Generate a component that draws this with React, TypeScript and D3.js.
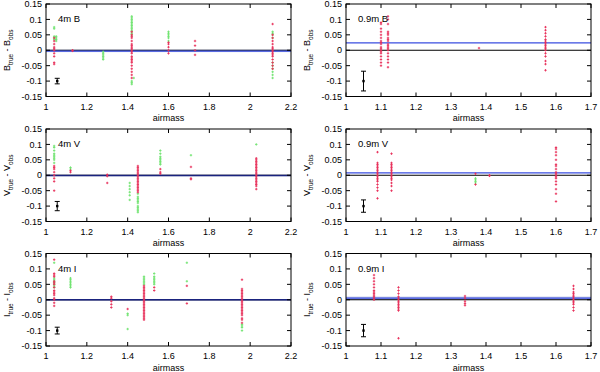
import React from "react";
import * as d3 from "d3";

type Pt = [number, number];

// ---------- data (airmass, residual) ----------
const b4Red: Pt[] = [
  [1.04, 0.04], [1.04, 0.03], [1.04, 0.02], [1.04, 0.01], [1.04, 0.005], [1.04, 0], [1.04, -0.01], [1.04, -0.02], [1.04, -0.04], [1.04, -0.045],
  [1.13, 0], [1.13, -0.002],
  [1.42, 0.06], [1.42, 0.05], [1.42, 0.045], [1.42, 0.04], [1.42, 0.03], [1.42, 0.02], [1.42, 0.015], [1.42, 0.01], [1.42, 0.005], [1.42, 0], [1.42, -0.005], [1.42, -0.01], [1.42, -0.02], [1.42, -0.025], [1.42, -0.03], [1.42, -0.035], [1.42, -0.04], [1.42, -0.05], [1.42, -0.06], [1.42, -0.07], [1.42, -0.08], [1.42, -0.09],
  [1.6, 0.025], [1.6, 0.02], [1.6, 0.01], [1.6, 0], [1.6, -0.01],
  [1.73, 0.03], [1.73, 0.015], [1.73, 0], [1.73, -0.015],
  [2.11, 0.085], [2.11, 0.05], [2.11, 0.04], [2.11, 0.03], [2.11, 0.02], [2.11, 0.01], [2.11, 0.005], [2.11, 0], [2.11, -0.005], [2.11, -0.01], [2.11, -0.015], [2.11, -0.02], [2.11, -0.03], [2.11, -0.04], [2.11, -0.05], [2.11, -0.06],
];
const b4Green: Pt[] = [
  [1.04, 0.075], [1.04, 0.07], [1.04, 0.045], [1.04, 0.04], [1.04, 0.035],
  [1.05, 0.045], [1.05, 0.04], [1.05, 0.035], [1.05, 0.03],
  [1.28, -0.005], [1.28, -0.01], [1.28, -0.015], [1.28, -0.02], [1.28, -0.025], [1.28, -0.03],
  [1.42, 0.11], [1.42, 0.105], [1.42, 0.1], [1.42, 0.095], [1.42, 0.09], [1.42, 0.085], [1.42, 0.08], [1.42, 0.075], [1.42, 0.07], [1.42, 0.065], [1.42, 0.06], [1.42, 0.055], [1.42, 0.05], [1.42, -0.1], [1.42, -0.105], [1.42, -0.11], [1.43, -0.09],
  [1.6, 0.06], [1.6, 0.055], [1.6, 0.05], [1.6, 0.045], [1.6, 0.04], [1.6, 0.03],
  [2.11, 0.06], [2.11, 0.055], [2.11, 0.05], [2.11, 0.04], [2.11, -0.04], [2.11, -0.05], [2.11, -0.06], [2.11, -0.07], [2.11, -0.08], [2.11, -0.09],
];
const b09Red: Pt[] = [
  [1.1, 0.09], [1.1, 0.085], [1.1, 0.07], [1.1, 0.06], [1.1, 0.05], [1.1, 0.04], [1.1, 0.03], [1.1, 0.025], [1.1, 0.02], [1.1, 0.01], [1.1, 0.005], [1.1, 0], [1.1, -0.005], [1.1, -0.01], [1.1, -0.02], [1.1, -0.03], [1.1, -0.04], [1.1, -0.05],
  [1.12, 0.11], [1.12, 0.1], [1.12, 0.085], [1.12, 0.06], [1.12, 0.055], [1.12, 0.05], [1.12, 0.04], [1.12, 0.035], [1.12, 0.03], [1.12, 0.02], [1.12, 0.015], [1.12, 0.01], [1.12, 0.005], [1.12, 0], [1.12, -0.01], [1.12, -0.02], [1.12, -0.03], [1.12, -0.04], [1.12, -0.055],
  [1.38, 0.007],
  [1.57, 0.075], [1.57, 0.065], [1.57, 0.055], [1.57, 0.045], [1.57, 0.035], [1.57, 0.03], [1.57, 0.025], [1.57, 0.02], [1.57, 0.015], [1.57, 0.01], [1.57, 0.005], [1.57, 0], [1.57, -0.01], [1.57, -0.02], [1.57, -0.035], [1.57, -0.045], [1.57, -0.065],
];
const b09Green: Pt[] = [];

const v4Red: Pt[] = [
  [1.04, 0.03], [1.04, 0.025], [1.04, 0.02], [1.04, 0.01], [1.04, 0], [1.04, -0.01], [1.04, -0.02], [1.04, -0.05],
  [1.12, 0.015], [1.12, 0.01],
  [1.3, 0.002], [1.3, -0.003], [1.3, -0.025],
  [1.45, 0.03], [1.45, 0.025], [1.45, 0.02], [1.45, 0.015], [1.45, 0.01], [1.45, 0.005], [1.45, 0], [1.45, -0.005], [1.45, -0.01], [1.45, -0.015], [1.45, -0.02], [1.45, -0.025], [1.45, -0.03], [1.45, -0.035], [1.45, -0.04], [1.45, -0.045], [1.45, -0.05], [1.45, -0.055],
  [1.56, 0.02], [1.56, 0.01], [1.56, 0.005],
  [1.71, 0.027], [1.71, -0.01], [1.71, -0.013],
  [2.03, 0.055], [2.03, 0.05], [2.03, 0.045], [2.03, 0.04], [2.03, 0.035], [2.03, 0.03], [2.03, 0.025], [2.03, 0.02], [2.03, 0.015], [2.03, 0.01], [2.03, 0.005], [2.03, 0], [2.03, -0.005], [2.03, -0.01], [2.03, -0.015], [2.03, -0.02], [2.03, -0.025], [2.03, -0.03], [2.03, -0.035], [2.03, -0.045],
];
const v4Green: Pt[] = [
  [1.04, 0.095], [1.04, 0.09], [1.04, 0.08], [1.04, 0.07], [1.04, 0.065], [1.04, 0.06], [1.04, 0.055], [1.04, 0.05], [1.04, 0.04],
  [1.12, 0.025], [1.12, 0.02],
  [1.41, -0.025], [1.41, -0.035], [1.41, -0.045], [1.41, -0.055], [1.41, -0.065], [1.41, -0.08],
  [1.45, -0.06], [1.45, -0.07], [1.45, -0.075], [1.45, -0.08], [1.45, -0.085], [1.45, -0.09], [1.45, -0.1], [1.45, -0.105], [1.45, -0.11], [1.45, -0.115], [1.45, -0.12],
  [1.56, 0.08], [1.56, 0.07], [1.56, 0.06], [1.56, 0.055], [1.56, 0.05], [1.56, 0.045], [1.56, 0.04], [1.56, 0.035],
  [1.71, 0.065],
  [2.03, 0.1],
];
const v09Red: Pt[] = [
  [1.09, 0.075], [1.09, 0.04], [1.09, 0.035], [1.09, 0.03], [1.09, 0.025], [1.09, 0.02], [1.09, 0.015], [1.09, 0.01], [1.09, 0.005], [1.09, 0], [1.09, -0.005], [1.09, -0.01], [1.09, -0.015], [1.09, -0.02], [1.09, -0.03], [1.09, -0.04], [1.09, -0.05], [1.09, -0.075],
  [1.13, 0.07], [1.13, 0.04], [1.13, 0.035], [1.13, 0.03], [1.13, 0.025], [1.13, 0.02], [1.13, 0.015], [1.13, 0.01], [1.13, 0.005], [1.13, 0], [1.13, -0.005], [1.13, -0.01], [1.13, -0.015], [1.13, -0.025], [1.13, -0.035], [1.13, -0.05],
  [1.37, 0.005], [1.37, -0.03],
  [1.41, 0], [1.41, -0.002],
  [1.6, 0.09], [1.6, 0.085], [1.6, 0.075], [1.6, 0.065], [1.6, 0.05], [1.6, 0.035], [1.6, 0.03], [1.6, 0.02], [1.6, 0.01], [1.6, 0.005], [1.6, 0], [1.6, -0.005], [1.6, -0.01], [1.6, -0.02], [1.6, -0.03], [1.6, -0.045], [1.6, -0.06], [1.6, -0.085],
];
const v09Green: Pt[] = [
  [1.37, -0.01], [1.37, -0.015], [1.37, -0.02], [1.37, -0.025],
];

const i4Red: Pt[] = [
  [1.04, 0.13], [1.04, 0.085], [1.04, 0.08], [1.04, 0.075], [1.04, 0.06], [1.04, 0.055], [1.04, 0.05], [1.04, 0.04], [1.04, 0.03], [1.04, 0.025], [1.04, 0.02], [1.04, 0.015], [1.04, 0.005], [1.04, 0], [1.04, -0.01], [1.04, -0.02],
  [1.32, 0.01], [1.32, 0.005], [1.32, -0.005], [1.32, -0.015], [1.32, -0.025],
  [1.4, -0.03],
  [1.48, 0.045], [1.48, 0.04], [1.48, 0.035], [1.48, 0.03], [1.48, 0.025], [1.48, 0.02], [1.48, 0.015], [1.48, 0.01], [1.48, 0.005], [1.48, 0], [1.48, -0.005], [1.48, -0.01], [1.48, -0.015], [1.48, -0.02], [1.48, -0.025], [1.48, -0.03], [1.48, -0.035], [1.48, -0.04], [1.48, -0.045], [1.48, -0.05], [1.48, -0.055], [1.48, -0.06], [1.48, -0.065],
  [1.53, 0.04], [1.53, 0.03],
  [1.69, 0.045], [1.69, -0.012],
  [1.96, 0.065], [1.96, 0.035], [1.96, 0.03], [1.96, 0.025], [1.96, 0.02], [1.96, 0.015], [1.96, 0.01], [1.96, 0.005], [1.96, 0], [1.96, -0.005], [1.96, -0.01], [1.96, -0.015], [1.96, -0.02], [1.96, -0.025], [1.96, -0.03], [1.96, -0.035], [1.96, -0.04], [1.96, -0.045], [1.96, -0.05], [1.96, -0.06], [1.96, -0.065], [1.96, -0.075],
];
const i4Green: Pt[] = [
  [1.04, 0.12], [1.04, 0.07], [1.04, 0.065], [1.04, 0.06], [1.04, 0.055], [1.04, 0.05], [1.04, 0.045], [1.04, 0.04],
  [1.12, 0.07], [1.12, 0.065], [1.12, 0.06], [1.12, 0.055], [1.12, 0.05], [1.12, 0.045], [1.12, 0.04],
  [1.4, -0.045], [1.4, -0.05], [1.4, -0.095],
  [1.48, 0.075], [1.48, 0.07], [1.48, 0.065], [1.48, 0.06], [1.48, 0.055], [1.48, 0.05],
  [1.53, 0.085], [1.53, 0.075], [1.53, 0.07], [1.53, 0.065], [1.53, 0.06], [1.53, 0.055], [1.53, 0.05],
  [1.69, 0.12], [1.69, 0.06],
  [1.96, -0.08], [1.96, -0.085], [1.96, -0.09], [1.96, -0.1],
];
const i09Red: Pt[] = [
  [1.08, 0.08], [1.08, 0.07], [1.08, 0.06], [1.08, 0.05], [1.08, 0.04], [1.08, 0.03], [1.08, 0.025], [1.08, 0.02], [1.08, 0.015], [1.08, 0.01], [1.08, 0.005], [1.08, 0],
  [1.15, 0.04], [1.15, 0.03], [1.15, 0.02], [1.15, 0.01], [1.15, 0.005], [1.15, 0], [1.15, -0.005], [1.15, -0.01], [1.15, -0.015], [1.15, -0.02], [1.15, -0.025], [1.15, -0.03], [1.15, -0.035], [1.15, -0.125],
  [1.34, 0.012], [1.34, 0.005], [1.34, -0.005], [1.34, -0.012], [1.34, -0.018],
  [1.65, 0.045], [1.65, 0.035], [1.65, 0.025], [1.65, 0.02], [1.65, 0.015], [1.65, 0.01], [1.65, 0.005], [1.65, 0], [1.65, -0.005], [1.65, -0.01], [1.65, -0.015], [1.65, -0.025], [1.65, -0.035],
];
const i09Green: Pt[] = [];

const yTicks = [-0.15, -0.1, -0.05, 0, 0.05, 0.1, 0.15];
const xTicks4m = [1, 1.2, 1.4, 1.6, 1.8, 2, 2.2];
const xTicks09m = [1, 1.1, 1.2, 1.3, 1.4, 1.5, 1.6, 1.7];

type Panel = {
  label: string;
  band: string;
  red: Pt[];
  green: Pt[];
  xDomain: [number, number];
  xTicks: number[];
  col: number;
  row: number;
  offset: number;
  bandLo: number;
  bandHi: number;
  err: [number, number, number];
  navy: boolean;
};

const panels: Panel[] = [
  { label: "4m B", band: "B", red: b4Red, green: b4Green, xDomain: [1, 2.2], xTicks: xTicks4m, col: 0, row: 0, offset: -0.003, bandLo: -0.006, bandHi: 0.002, err: [1.055, -0.1, 0.009], navy: false },
  { label: "0.9m B", band: "B", red: b09Red, green: b09Green, xDomain: [1, 1.7], xTicks: xTicks09m, col: 1, row: 0, offset: 0.024, bandLo: 0.024, bandHi: 0.024, err: [1.05, -0.1, 0.032], navy: false },
  { label: "4m V", band: "V", red: v4Red, green: v4Green, xDomain: [1, 2.2], xTicks: xTicks4m, col: 0, row: 1, offset: -0.001, bandLo: -0.003, bandHi: 0.001, err: [1.055, -0.1, 0.015], navy: true },
  { label: "0.9m V", band: "V", red: v09Red, green: v09Green, xDomain: [1, 1.7], xTicks: xTicks09m, col: 1, row: 1, offset: 0.008, bandLo: 0.008, bandHi: 0.008, err: [1.05, -0.1, 0.02], navy: false },
  { label: "4m I", band: "I", red: i4Red, green: i4Green, xDomain: [1, 2.2], xTicks: xTicks4m, col: 0, row: 2, offset: 0.0, bandLo: -0.002, bandHi: 0.002, err: [1.055, -0.1, 0.011], navy: true },
  { label: "0.9m I", band: "I", red: i09Red, green: i09Green, xDomain: [1, 1.7], xTicks: xTicks09m, col: 1, row: 2, offset: 0.005, bandLo: -0.001, bandHi: 0.01, err: [1.05, -0.1, 0.02], navy: false },
];

const colX = [46, 346];
const plotW = 245;
const rowY = [4, 129, 253.5];
const plotH = 92.5;

const RED = "#e8305a";
const GREEN = "#6fe36f";
const FONT = "Liberation Sans, Arial, sans-serif";

function fmtY(v: number) {
  if (Math.abs(v) < 1e-9) return "0";
  return String(+v.toFixed(2));
}

function PanelView({ p }: { p: Panel }) {
  const x0 = colX[p.col];
  const y0 = rowY[p.row];
  const xs = d3.scaleLinear().domain(p.xDomain).range([x0, x0 + plotW]);
  const ys = d3.scaleLinear().domain([-0.15, 0.15]).range([y0 + plotH, y0]);
  const tick = 4;
  const plus = (pt: Pt, color: string, key: string) => {
    const cx = xs(pt[0]);
    const cy = ys(pt[1]);
    return (
      <path key={key} d={`M${cx - 1.2},${cy}H${cx + 1.2}M${cx},${cy - 1.2}V${cy + 1.2}`} stroke={color} strokeWidth={0.9} />
    );
  };
  const [ex, ey, ee] = p.err;
  const exPx = xs(ex);
  const yMid = y0 + plotH / 2;
  const titleX = x0 - 36;
  const bandH = ys(p.bandLo) - ys(p.bandHi);
  return (
    <g>
      {bandH > 0.5 && (
        <rect x={x0} width={plotW} y={ys(p.bandHi)} height={bandH} fill={p.navy ? "#8a8fd0" : "#a4aedf"} opacity={0.75} />
      )}
      <line x1={x0} x2={x0 + plotW} y1={ys(0)} y2={ys(0)} stroke="#000" strokeWidth={1} />
      <line x1={x0} x2={x0 + plotW} y1={ys(p.offset)} y2={ys(p.offset)} stroke={p.navy ? "#1a237e" : "#3a4ee0"} strokeWidth={p.navy ? 1.6 : 1.2} />
      {p.green.map((pt, i) => plus(pt, GREEN, "g" + i))}
      {p.red.map((pt, i) => plus(pt, RED, "r" + i))}
      <g stroke="#000" strokeWidth={1}>
        <line x1={exPx} x2={exPx} y1={ys(ey + ee)} y2={ys(ey - ee)} />
        <line x1={exPx - 2.5} x2={exPx + 2.5} y1={ys(ey + ee)} y2={ys(ey + ee)} />
        <line x1={exPx - 2.5} x2={exPx + 2.5} y1={ys(ey - ee)} y2={ys(ey - ee)} />
        <rect x={exPx - 1.2} y={ys(ey) - 1.2} width={2.4} height={2.4} fill="#000" stroke="none" />
      </g>
      <rect x={x0} y={y0} width={plotW} height={plotH} fill="none" stroke="#000" strokeWidth={1} />
      <g stroke="#000" strokeWidth={1}>
        {p.xTicks.map((t, i) => (
          <g key={"xt" + i}>
            <line x1={xs(t)} x2={xs(t)} y1={y0 + plotH} y2={y0 + plotH - tick} />
            <line x1={xs(t)} x2={xs(t)} y1={y0} y2={y0 + tick} />
          </g>
        ))}
        {yTicks.map((t, i) => (
          <g key={"yt" + i}>
            <line x1={x0} x2={x0 + tick} y1={ys(t)} y2={ys(t)} />
            <line x1={x0 + plotW} x2={x0 + plotW - tick} y1={ys(t)} y2={ys(t)} />
          </g>
        ))}
      </g>
      <g fontFamily={FONT} fontSize={9} fill="#000">
        {p.xTicks.map((t, i) => (
          <text key={"xl" + i} x={xs(t)} y={y0 + plotH + 13} textAnchor="middle">{String(t)}</text>
        ))}
        {yTicks.map((t, i) => (
          <text key={"yl" + i} x={x0 - 4} y={ys(t) + 3.2} textAnchor="end">{fmtY(t)}</text>
        ))}
        <text x={x0 + plotW / 2} y={y0 + plotH + 24.5} textAnchor="middle">airmass</text>
        <text x={x0 + 12} y={y0 + 18} fontSize={9.5}>{p.label}</text>
        <text transform={`translate(${titleX},${yMid}) rotate(-90)`} textAnchor="middle">
          {p.band}
          <tspan fontSize={6.5} dy={2.5}>true</tspan>
          <tspan dy={-2.5}> - {p.band}</tspan>
          <tspan fontSize={6.5} dy={2.5}>obs</tspan>
        </text>
      </g>
    </g>
  );
}

export default function App() {
  return (
    <svg width={600} height={372} style={{ position: "fixed", left: 0, top: 0, background: "#fff" }}>
      <rect width={600} height={372} fill="#fff" />
      {panels.map((p, i) => (
        <PanelView key={i} p={p} />
      ))}
    </svg>
  );
}
